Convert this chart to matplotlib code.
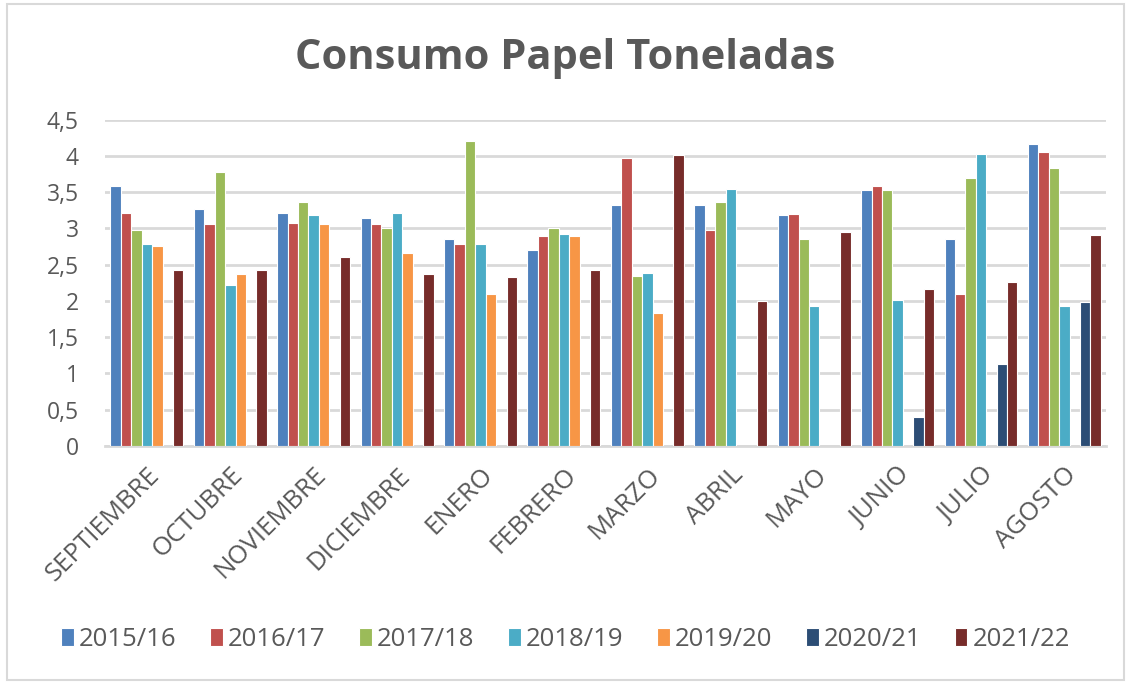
import matplotlib
matplotlib.use("Agg")
import matplotlib.pyplot as plt
import numpy as np
from matplotlib.patches import Rectangle
from matplotlib.ticker import FuncFormatter

months = ["SEPTIEMBRE", "OCTUBRE", "NOVIEMBRE", "DICIEMBRE", "ENERO", "FEBRERO",
          "MARZO", "ABRIL", "MAYO", "JUNIO", "JULIO", "AGOSTO"]
seasons = ["2015/16", "2016/17", "2017/18", "2018/19", "2019/20", "2020/21", "2021/22"]

# None = no value reported for that month
s2015 = [3.58, 3.27, 3.22, 3.14, 2.85, 2.70, 3.33, 3.33, 3.18, 3.53, 2.85, 4.17]
s2016 = [3.22, 3.06, 3.08, 3.06, 2.78, 2.89, 3.97, 2.98, 3.20, 3.59, 2.10, 4.05]
s2017 = [2.98, 3.78, 3.37, 3.00, 4.20, 3.00, 2.35, 3.37, 2.85, 3.53, 3.70, 3.84]
s2018 = [2.78, 2.22, 3.18, 3.22, 2.78, 2.93, 2.39, 3.55, 1.93, 2.01, 4.03, 1.93]
s2019 = [2.76, 2.37, 3.06, 2.66, 2.10, 2.89, 1.83, None, None, None, None, None]
s2020 = [None, None, None, None, None, None, None, None, None, 0.40, 1.13, 1.99]
s2021 = [2.43, 2.43, 2.60, 2.37, 2.33, 2.43, 4.01, 2.00, 2.95, 2.17, 2.26, 2.91]

series = [s2015, s2016, s2017, s2018, s2019, s2020, s2021]
colors = ["#4F81BD", "#C0504D", "#9BBB59", "#4BACC6", "#F79646", "#2C4D75", "#772C2A"]

plt.rcParams["font.family"] = ["Open Sans", "DejaVu Sans"]
txt = "#595959"

fig = plt.figure(figsize=(11.31, 6.84), dpi=100)
ax = fig.add_axes([0.093, 0.348, 0.885, 0.477])

x = np.arange(len(months))
bw = 0.125
for i, (name, vals, c) in enumerate(zip(seasons, series, colors)):
    v = np.array([np.nan if y is None else y for y in vals], dtype=float)
    ax.bar(x + (i - 3) * bw, v, width=bw, color=c, edgecolor="white",
           linewidth=0.8, label=name, zorder=3)

ax.set_xlim(-0.5, len(months) - 0.5)
ax.set_ylim(0, 4.5)
ax.set_yticks(np.arange(0, 4.51, 0.5))
ax.yaxis.set_major_formatter(FuncFormatter(lambda v, p: f"{v:g}".replace(".", ",")))
ax.grid(axis="y", color="#D9D9D9", lw=2, zorder=0)
for s in ["top", "right", "left"]:
    ax.spines[s].set_visible(False)
ax.spines["bottom"].set_color("#D9D9D9")
ax.spines["bottom"].set_linewidth(2)
ax.tick_params(axis="y", length=0, labelsize=16.5, colors=txt, pad=19)
ax.tick_params(axis="x", length=0, labelsize=18.5, colors=txt, pad=12)
ax.set_xticks(x)
ax.set_xticklabels(months, rotation=45, ha="right", rotation_mode="anchor")

fig.suptitle("Consumo Papel Toneladas", fontsize=30, fontweight="bold", color=txt, y=0.945)

leg = fig.legend(loc="center", bbox_to_anchor=(0.5, 0.065), ncol=7, frameon=False,
                 fontsize=18.5, handlelength=0.5, handleheight=0.7, handletextpad=0.2,
                 columnspacing=1.3)
for t in leg.get_texts():
    t.set_color(txt)

fig.patches.append(Rectangle((0.006, 0.006), 0.988, 0.988, transform=fig.transFigure,
                             fill=False, edgecolor="#D9D9D9", lw=1.5))

fig.savefig("out.png", dpi=100)
